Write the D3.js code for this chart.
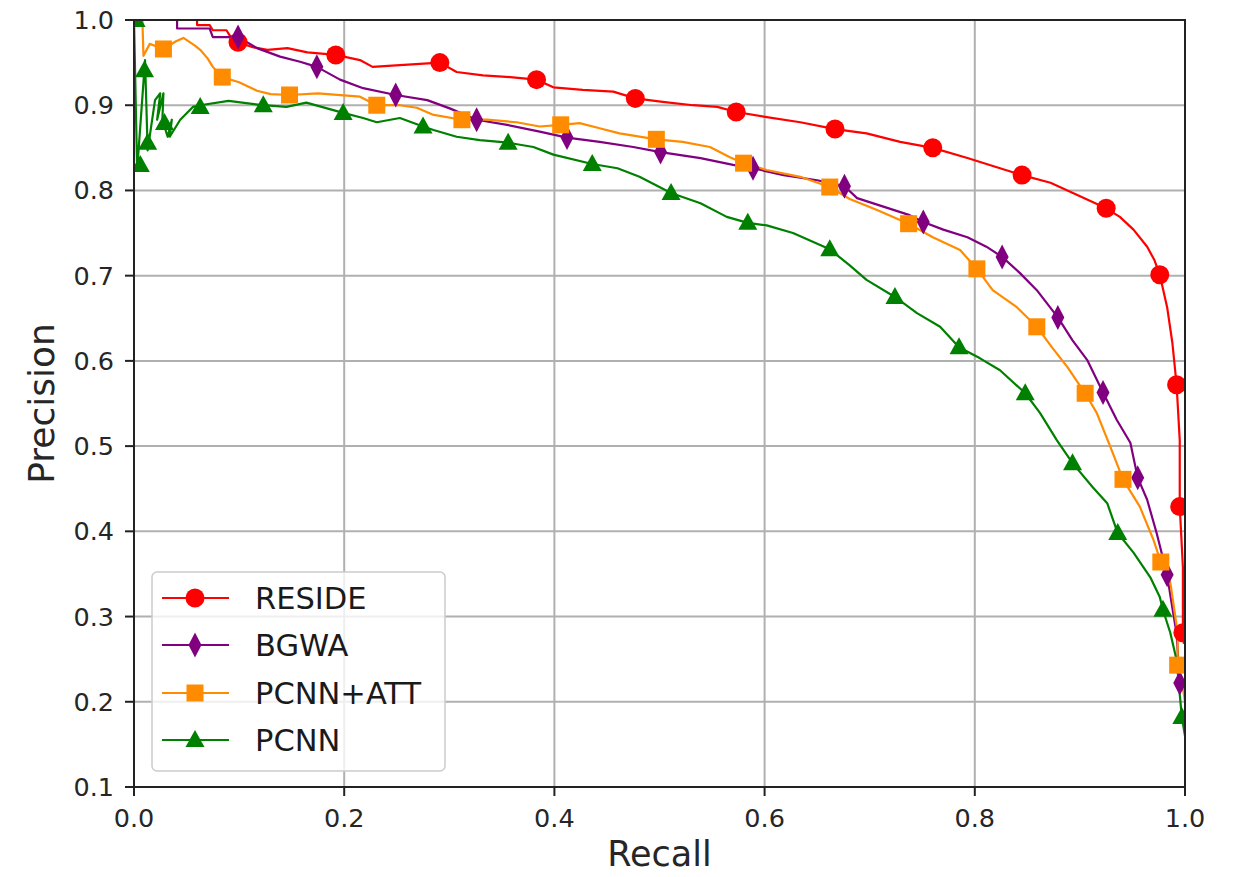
<!DOCTYPE html>
<html>
<head>
<meta charset="utf-8">
<script src="https://cdn.jsdelivr.net/npm/d3@7"></script>
<style>
  body { margin: 0; background: #fff; }
  svg { display: block; font-family: "DejaVu Sans", sans-serif; }
</style>
</head>
<body>
<svg id="chart" width="1234" height="877"></svg>
<script>
// recall / precision curves
const resideLine = [[0,1.0],[0.06,1.0],[0.06,0.994],[0.072,0.994],[0.075,0.988],[0.088,0.988],[0.091,0.982],[0.099,0.974],[0.113,0.968],[0.127,0.965],[0.146,0.967],[0.165,0.962],[0.192,0.959],[0.215,0.953],[0.227,0.945],[0.253,0.947],[0.291,0.95],[0.307,0.939],[0.332,0.935],[0.358,0.933],[0.383,0.93],[0.399,0.921],[0.427,0.918],[0.456,0.916],[0.477,0.908],[0.503,0.904],[0.532,0.9],[0.555,0.898],[0.573,0.892],[0.602,0.886],[0.634,0.88],[0.667,0.872],[0.697,0.867],[0.729,0.857],[0.76,0.85],[0.793,0.838],[0.824,0.826],[0.845,0.818],[0.872,0.809],[0.897,0.795],[0.925,0.779],[0.938,0.769],[0.951,0.754],[0.964,0.734],[0.971,0.718],[0.976,0.701],[0.983,0.663],[0.988,0.621],[0.992,0.572],[0.995,0.507],[0.995,0.429],[0.998,0.358],[0.998,0.281],[0.999,0.268]];
const resideMarks = [[0.099,0.974],[0.192,0.959],[0.291,0.95],[0.383,0.93],[0.477,0.908],[0.573,0.892],[0.667,0.872],[0.76,0.85],[0.845,0.818],[0.925,0.779],[0.976,0.701],[0.992,0.572],[0.995,0.429],[0.998,0.281]];

const bgwaLine = [[0,1.0],[0.041,1.0],[0.041,0.99],[0.072,0.99],[0.075,0.98],[0.099,0.98],[0.117,0.967],[0.139,0.957],[0.158,0.951],[0.174,0.945],[0.196,0.93],[0.218,0.92],[0.249,0.912],[0.279,0.906],[0.301,0.896],[0.326,0.883],[0.355,0.877],[0.386,0.869],[0.412,0.862],[0.443,0.857],[0.475,0.851],[0.501,0.845],[0.539,0.838],[0.57,0.83],[0.589,0.826],[0.618,0.818],[0.65,0.812],[0.676,0.805],[0.688,0.791],[0.713,0.781],[0.738,0.771],[0.751,0.763],[0.77,0.754],[0.793,0.745],[0.811,0.734],[0.826,0.722],[0.843,0.703],[0.859,0.683],[0.879,0.651],[0.893,0.624],[0.907,0.601],[0.922,0.563],[0.935,0.531],[0.948,0.504],[0.955,0.463],[0.964,0.437],[0.973,0.398],[0.983,0.349],[0.988,0.31],[0.992,0.28],[0.995,0.222],[1.0,0.21]];
const bgwaMarks = [[0.099,0.98],[0.174,0.945],[0.249,0.912],[0.326,0.883],[0.412,0.862],[0.501,0.845],[0.589,0.826],[0.676,0.805],[0.751,0.763],[0.826,0.722],[0.879,0.651],[0.922,0.563],[0.955,0.463],[0.983,0.349],[0.995,0.222]];

const attLine = [[0.008,1.0],[0.009,0.958],[0.015,0.972],[0.028,0.966],[0.04,0.975],[0.047,0.979],[0.058,0.97],[0.063,0.965],[0.07,0.955],[0.075,0.945],[0.084,0.933],[0.1,0.927],[0.117,0.917],[0.13,0.913],[0.148,0.912],[0.175,0.914],[0.215,0.91],[0.231,0.9],[0.253,0.9],[0.269,0.897],[0.284,0.889],[0.312,0.883],[0.336,0.883],[0.364,0.88],[0.386,0.875],[0.406,0.877],[0.424,0.879],[0.443,0.873],[0.462,0.867],[0.497,0.86],[0.522,0.857],[0.548,0.851],[0.567,0.839],[0.58,0.832],[0.602,0.824],[0.634,0.816],[0.662,0.804],[0.681,0.79],[0.707,0.777],[0.737,0.761],[0.76,0.745],[0.786,0.73],[0.802,0.708],[0.817,0.683],[0.84,0.663],[0.859,0.64],[0.874,0.615],[0.888,0.593],[0.905,0.562],[0.916,0.539],[0.929,0.499],[0.941,0.461],[0.957,0.429],[0.97,0.39],[0.977,0.364],[0.986,0.34],[0.993,0.281],[0.993,0.243],[0.998,0.217],[1.0,0.2]];
const attMarks = [[0.028,0.966],[0.084,0.933],[0.148,0.912],[0.231,0.9],[0.312,0.883],[0.406,0.877],[0.497,0.86],[0.58,0.832],[0.662,0.804],[0.737,0.761],[0.802,0.708],[0.859,0.64],[0.905,0.562],[0.941,0.461],[0.977,0.364],[0.993,0.243]];

const pcnnLine = [[0,1.0],[0.003,0.824],[0.0105,0.953],[0.013,0.847],[0.02,0.906],[0.025,0.914],[0.022,0.883],[0.028,0.914],[0.027,0.883],[0.032,0.863],[0.036,0.883],[0.034,0.863],[0.044,0.883],[0.056,0.898],[0.063,0.9],[0.09,0.905],[0.123,0.9],[0.145,0.898],[0.164,0.903],[0.199,0.891],[0.218,0.885],[0.231,0.88],[0.253,0.885],[0.275,0.875],[0.285,0.871],[0.307,0.863],[0.329,0.859],[0.356,0.856],[0.38,0.851],[0.399,0.842],[0.436,0.831],[0.46,0.826],[0.481,0.816],[0.511,0.797],[0.539,0.785],[0.564,0.769],[0.584,0.762],[0.602,0.759],[0.627,0.75],[0.662,0.731],[0.681,0.712],[0.697,0.695],[0.724,0.675],[0.745,0.656],[0.767,0.64],[0.785,0.616],[0.805,0.603],[0.824,0.589],[0.848,0.562],[0.862,0.539],[0.878,0.507],[0.893,0.48],[0.912,0.452],[0.926,0.433],[0.936,0.398],[0.951,0.375],[0.967,0.346],[0.976,0.323],[0.979,0.308],[0.986,0.281],[0.992,0.249],[0.997,0.182],[1.0,0.16]];
const pcnnMarks = [[0.002,1.0],[0.01,0.941],[0.013,0.856],[0.006,0.83],[0.029,0.879],[0.063,0.898],[0.123,0.9],[0.199,0.891],[0.275,0.875],[0.356,0.856],[0.436,0.831],[0.511,0.797],[0.584,0.762],[0.662,0.731],[0.724,0.675],[0.785,0.616],[0.848,0.562],[0.893,0.48],[0.936,0.398],[0.979,0.308],[0.997,0.182]];

const seriesNames = ['RESIDE', 'BGWA', 'PCNN+ATT', 'PCNN'];
const seriesColors = ['#ff0000', '#800080', '#ff8c00', '#008000'];
const seriesSymbols = ['circle', 'diamond', 'square', 'triangle'];
const xTicks = [0, 0.2, 0.4, 0.6, 0.8, 1.0];
const yTicks = [0.1, 0.2, 0.3, 0.4, 0.5, 0.6, 0.7, 0.8, 0.9, 1.0];

const lines = [resideLine, bgwaLine, attLine, pcnnLine];
const marks = [resideMarks, bgwaMarks, attMarks, pcnnMarks];

const plotLeft = 134, plotRight = 1185, plotTop = 20, plotBottom = 787;
const svg = d3.select('#chart');

const x = d3.scaleLinear().domain([0, 1]).range([plotLeft, plotRight]);
const y = d3.scaleLinear().domain([0.1, 1]).range([plotBottom, plotTop]);

svg.append('defs').append('clipPath').attr('id', 'plotClip')
  .append('rect').attr('x', plotLeft).attr('y', plotTop)
  .attr('width', plotRight - plotLeft).attr('height', plotBottom - plotTop);

// grid
svg.append('g').selectAll('line').data(xTicks).join('line')
  .attr('x1', d => x(d)).attr('x2', d => x(d))
  .attr('y1', plotTop).attr('y2', plotBottom)
  .attr('stroke', '#b0b0b0').attr('stroke-width', 2);
svg.append('g').selectAll('line').data(yTicks).join('line')
  .attr('x1', plotLeft).attr('x2', plotRight)
  .attr('y1', d => y(d)).attr('y2', d => y(d))
  .attr('stroke', '#b0b0b0').attr('stroke-width', 2);

// marker shapes, sized like the picture
function markPath(type) {
    switch (type) {
        case 'circle':
            return d3.symbol(d3.symbolCircle, Math.PI * 9.5 * 9.5)();
        case 'square':
            return 'M-8.5,-8.5H8.5V8.5H-8.5Z';
        case 'diamond':
            return 'M0,-12.5L6.5,0L0,12.5L-6.5,0Z';
        case 'triangle':
            return 'M0,-10L9.5,7L-9.5,7Z';
    }
}

const plot = svg.append('g').attr('clip-path', 'url(#plotClip)');
const line = d3.line().x(d => x(d[0])).y(d => y(d[1]));

lines.forEach((pts, i) => {
    plot.append('path')
        .datum(pts)
        .attr('d', line)
        .attr('fill', 'none')
        .attr('stroke', seriesColors[i])
        .attr('stroke-width', 2.2)
        .attr('stroke-linejoin', 'round');
});
marks.forEach((pts, i) => {
    plot.append('g').selectAll('path').data(pts).join('path')
        .attr('transform', d => `translate(${x(d[0])},${y(d[1])})`)
        .attr('d', markPath(seriesSymbols[i]))
        .attr('fill', seriesColors[i]);
});

// spines
svg.append('rect')
  .attr('x', plotLeft).attr('y', plotTop)
  .attr('width', plotRight - plotLeft).attr('height', plotBottom - plotTop)
  .attr('fill', 'none').attr('stroke', '#222').attr('stroke-width', 2);

// ticks
svg.append('g').selectAll('line').data(xTicks).join('line')
  .attr('x1', d => x(d)).attr('x2', d => x(d))
  .attr('y1', plotBottom).attr('y2', plotBottom + 9)
  .attr('stroke', '#222').attr('stroke-width', 2);
svg.append('g').selectAll('text').data(xTicks).join('text')
  .attr('x', d => x(d)).attr('y', 827)
  .attr('text-anchor', 'middle')
  .attr('font-size', 25.5).attr('fill', '#262626')
  .text(d => d.toFixed(1));

svg.append('g').selectAll('line').data(yTicks).join('line')
  .attr('x1', plotLeft - 9).attr('x2', plotLeft)
  .attr('y1', d => y(d)).attr('y2', d => y(d))
  .attr('stroke', '#222').attr('stroke-width', 2);
svg.append('g').selectAll('text').data(yTicks).join('text')
  .attr('x', 114).attr('y', d => y(d) + 9)
  .attr('text-anchor', 'end')
  .attr('font-size', 25.5).attr('fill', '#262626')
  .text(d => d.toFixed(1));

// axis labels
svg.append('text')
  .attr('x', (plotLeft + plotRight) / 2).attr('y', 866)
  .attr('text-anchor', 'middle').attr('font-size', 35).attr('fill', '#262626')
  .text('Recall');
svg.append('text')
  .attr('transform', `translate(54,${(plotTop + plotBottom) / 2}) rotate(-90)`)
  .attr('text-anchor', 'middle').attr('font-size', 36).attr('fill', '#262626')
  .text('Precision');

// legend
const legend = svg.append('g');
legend.append('rect')
  .attr('x', 152).attr('y', 572).attr('width', 293).attr('height', 199)
  .attr('rx', 5).attr('fill', 'rgba(255,255,255,0.8)')
  .attr('stroke', '#cccccc').attr('stroke-width', 1.5);
const rowY = [598, 645, 693, 740];
seriesNames.forEach((name, i) => {
    const row = legend.append('g').attr('transform', `translate(0,${rowY[i]})`);
    row.append('line').attr('x1', 162).attr('x2', 229)
      .attr('stroke', seriesColors[i]).attr('stroke-width', 2.2);
    row.append('path').attr('transform', 'translate(195,0)')
      .attr('d', markPath(seriesSymbols[i])).attr('fill', seriesColors[i]);
    row.append('text').attr('x', 255).attr('y', 11)
      .attr('font-size', 30.5).attr('fill', '#1a1a1a')
      .text(name);
});
</script>
</body>
</html>
